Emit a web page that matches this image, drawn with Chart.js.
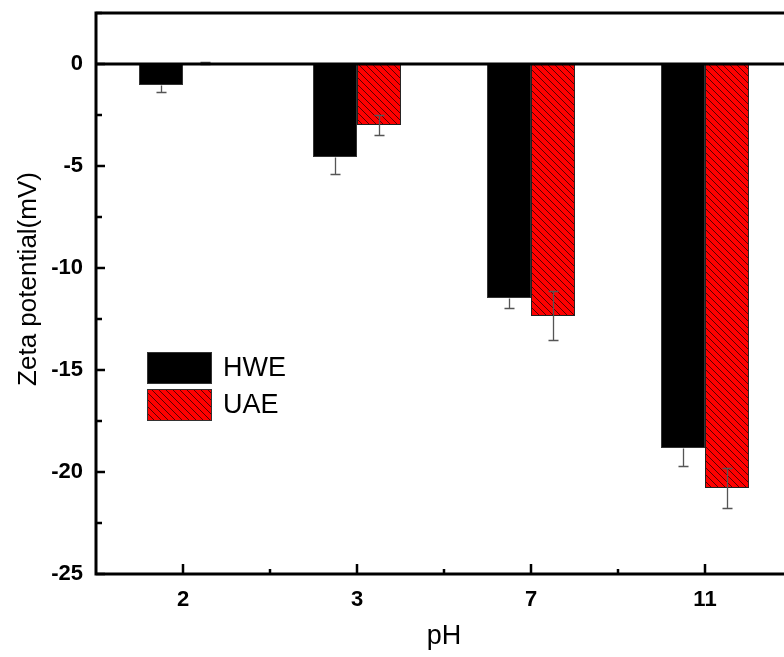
<!DOCTYPE html>
<html>
<head>
<meta charset="utf-8">
<script src="https://cdn.jsdelivr.net/npm/chart.js@4"></script>
<style>
  html, body { margin: 0; padding: 0; background: #fff; overflow: hidden; }
  #wrap { width: 800px; height: 657px; }
</style>
</head>
<body>
<div id="wrap"><canvas id="chart" width="800" height="657"></canvas></div>
<script>
// data
const categories = ['2', '3', '7', '11'];
const hweValues = [-1.03, -4.56, -11.47, -18.82];
const hweErrors = [0.34, 0.83, 0.49, 0.88];
const uaeValues = [0.05, -2.99, -12.35, -20.78];
const uaeErrors = [0.05, 0.47, 1.2, 1.0];
const seriesNames = ['HWE', 'UAE'];
const yTitle = 'Zeta potential(mV)';

const FONT = '"Liberation Sans", Arial, sans-serif';

// red fill with diagonal black hatch
function hatch() {
  const c = document.createElement('canvas');
  c.width = 7; c.height = 7;
  const g = c.getContext('2d');
  g.fillStyle = '#ff0000';
  g.fillRect(0, 0, 7, 7);
  g.strokeStyle = 'rgba(60,0,0,0.85)';
  g.lineWidth = 1;
  g.beginPath();
  g.moveTo(-1, -1); g.lineTo(8, 8);
  g.moveTo(-1, 6); g.lineTo(1, 8);
  g.moveTo(6, -1); g.lineTo(8, 1);
  g.stroke();
  return g.createPattern(c, 'repeat');
}
const uaeFill = hatch();

// error bars, frame, inward ticks, y title and legend
const decor = {
  id: 'decor',
  afterDatasetsDraw(chart) {
    const ctx = chart.ctx;
    const errs = [hweErrors, uaeErrors];
    const y = chart.scales.y;
    ctx.save();
    ctx.strokeStyle = '#555';
    ctx.lineWidth = 1.3;
    chart.data.datasets.forEach((ds, i) => {
      chart.getDatasetMeta(i).data.forEach((bar, j) => {
        const v = ds.data[j], e = errs[i][j];
        const x = Math.round(bar.x) + 0.5;
        // the black bars hide the inner half of their error bars
        const y1 = Math.round(y.getPixelForValue(i === 0 ? v : v + e)) + 0.5;
        const y2 = Math.round(y.getPixelForValue(v - e)) + 0.5;
        ctx.beginPath();
        ctx.moveTo(x, y1); ctx.lineTo(x, y2);
        if (i !== 0) { ctx.moveTo(x - 5, y1); ctx.lineTo(x + 5, y1); }
        ctx.moveTo(x - 5, y2); ctx.lineTo(x + 5, y2);
        ctx.stroke();
      });
    });
    ctx.restore();
  },
  afterDraw(chart) {
    const ctx = chart.ctx;
    const a = chart.chartArea;
    const xs = chart.scales.x, ys = chart.scales.y;
    ctx.save();
    ctx.strokeStyle = '#000';
    ctx.lineCap = 'butt';

    // zero line
    ctx.lineWidth = 3;
    const y0 = ys.getPixelForValue(0);
    ctx.beginPath(); ctx.moveTo(a.left, y0); ctx.lineTo(a.right, y0); ctx.stroke();

    // frame
    ctx.strokeRect(a.left, a.top, a.right - a.left, a.bottom - a.top);

    // y ticks, pointing inward
    ctx.lineWidth = 2.5;
    ys.ticks.forEach(t => {
      const py = ys.getPixelForValue(t.value);
      const len = (t.value % 5 === 0) ? 9 : 6;
      ctx.beginPath(); ctx.moveTo(a.left, py); ctx.lineTo(a.left + len, py); ctx.stroke();
    });

    // x ticks, pointing inward
    const step = (a.right - a.left) / categories.length;
    categories.forEach((c, i) => {
      const px = xs.getPixelForValue(i);
      ctx.beginPath(); ctx.moveTo(px, a.bottom); ctx.lineTo(px, a.bottom - 10); ctx.stroke();
      if (i > 0) {
        const mx = a.left + step * i;
        ctx.beginPath(); ctx.moveTo(mx, a.bottom); ctx.lineTo(mx, a.bottom - 5); ctx.stroke();
      }
    });

    // y axis title
    ctx.fillStyle = '#000';
    ctx.font = '26px ' + FONT;
    ctx.textAlign = 'center';
    ctx.textBaseline = 'middle';
    ctx.translate(29, 279);
    ctx.rotate(-Math.PI / 2);
    ctx.fillText(yTitle, 0, 0);
    ctx.setTransform(1, 0, 0, 1, 0, 0);

    // legend
    const fills = [chart.data.datasets[0].backgroundColor, chart.data.datasets[1].backgroundColor];
    const rows = [352, 389];
    ctx.font = '27px ' + FONT;
    ctx.textBaseline = 'middle';
    ctx.textAlign = 'left';
    seriesNames.forEach((name, i) => {
      ctx.fillStyle = fills[i];
      ctx.fillRect(147, rows[i], 65, 32);
      ctx.lineWidth = 1;
      ctx.strokeStyle = '#333';
      ctx.strokeRect(147.5, rows[i] + 0.5, 64, 31);
      ctx.fillStyle = '#000';
      ctx.fillText(name, 223, rows[i] + 17);
    });
    ctx.restore();
  }
};

new Chart(document.getElementById('chart'), {
  type: 'bar',
  data: {
    labels: categories,
    datasets: [
      {
        label: seriesNames[0],
        data: hweValues,
        backgroundColor: '#000',
        borderColor: '#333',
        borderWidth: 1,
        borderSkipped: false
      },
      {
        label: seriesNames[1],
        data: uaeValues,
        backgroundColor: uaeFill,
        borderColor: '#222',
        borderWidth: 1,
        borderSkipped: false
      }
    ]
  },
  options: {
    responsive: false,
    animation: false,
    devicePixelRatio: 1,
    layout: { padding: { top: 13, right: 8, left: 0, bottom: 0 } },
    datasets: { bar: { categoryPercentage: 0.506, barPercentage: 1 } },
    plugins: { legend: { display: false }, tooltip: { enabled: false } },
    scales: {
      x: {
        grid: { display: false, drawTicks: false },
        border: { display: false },
        ticks: { color: '#000', padding: 13, font: { family: FONT, size: 22, weight: 'bold' } },
        title: { display: true, text: 'pH', color: '#000', padding: { bottom: 4 }, font: { family: FONT, size: 27 } },
        afterFit(s) { s.height = 83; s.paddingLeft = 0; s.paddingRight = 0; }
      },
      y: {
        min: -25,
        max: 2.5,
        grid: { display: false, drawTicks: false },
        border: { display: false },
        ticks: {
          stepSize: 2.5,
          color: '#000',
          padding: 13,
          font: { family: FONT, size: 22, weight: 'bold' },
          callback: v => (v % 5 === 0 ? String(v) : '')
        },
        afterFit(s) { s.width = 96; s.paddingTop = 0; s.paddingBottom = 0; }
      }
    }
  },
  plugins: [decor]
});
</script>
</body>
</html>
